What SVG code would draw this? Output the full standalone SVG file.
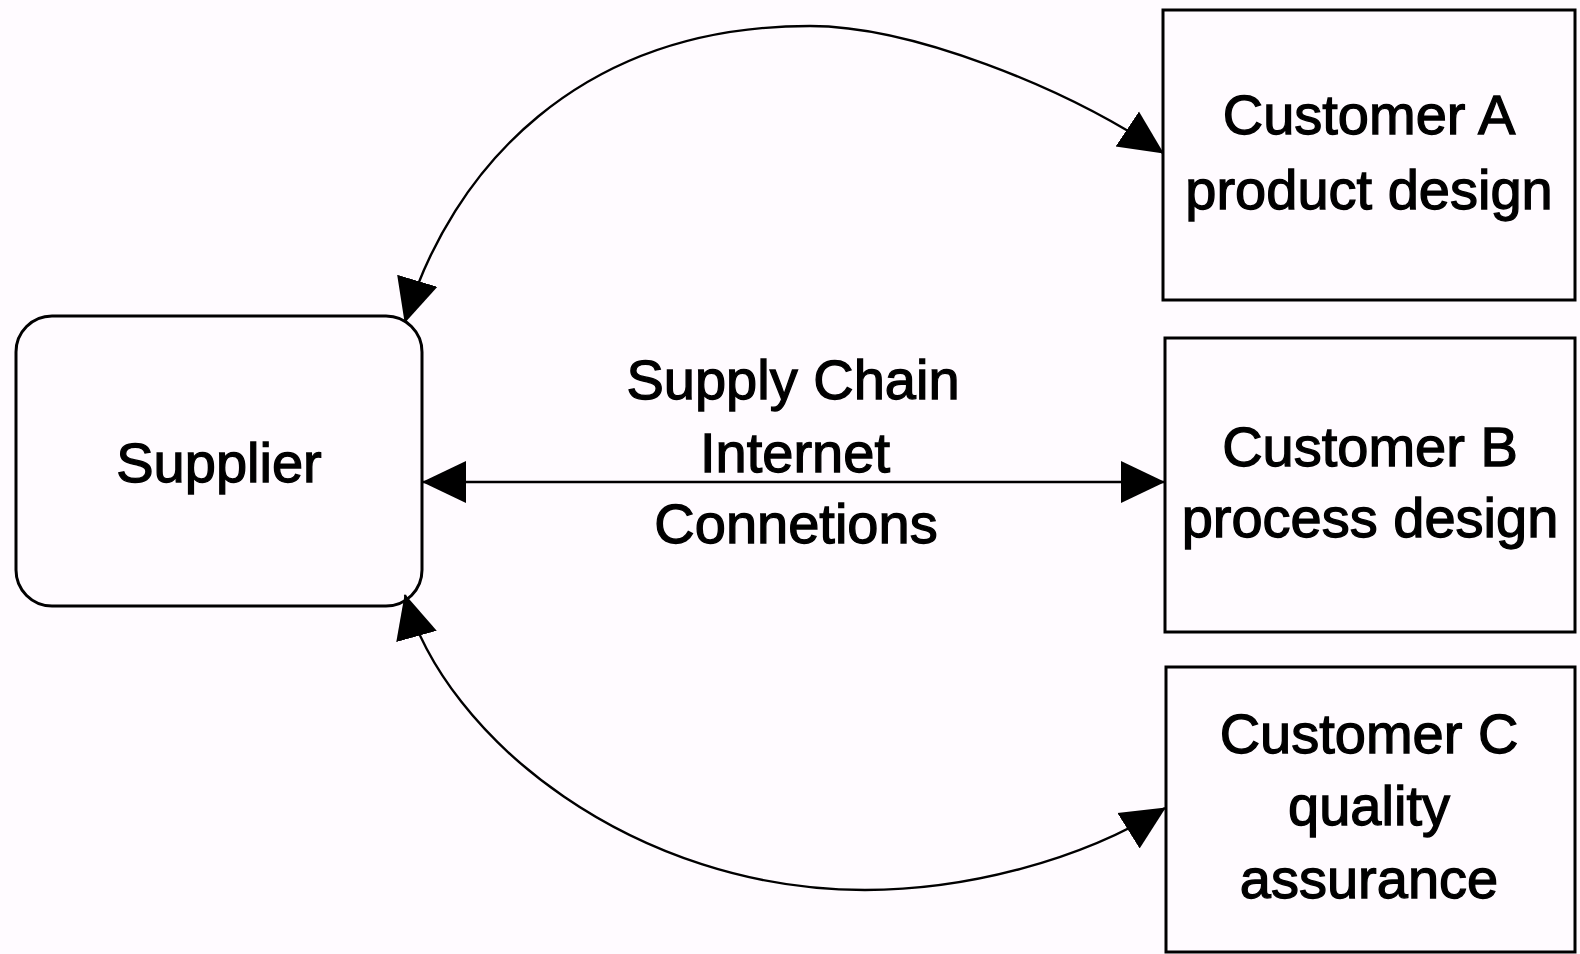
<svg xmlns="http://www.w3.org/2000/svg" width="1580" height="954" viewBox="0 0 1580 954">
  <style>
    .box { fill: none; stroke: #000; stroke-width: 3; }
    .label { font-family: "Liberation Sans", Arial, sans-serif; font-size: 56px; fill: #000; stroke: #000; stroke-width: 1.3; text-anchor: middle; }
    .link { fill: none; stroke: #000; stroke-width: 2.4; marker-start: url(#head); marker-end: url(#head); }
  </style>
  <defs>
    <marker id="head" markerUnits="userSpaceOnUse" viewBox="0 0 44 44" markerWidth="44" markerHeight="44" refX="43" refY="22" orient="auto-start-reverse">
      <path d="M0,1 L44,22 L0,43 z" fill="#000"/>
    </marker>
  </defs>

  <rect width="1580" height="954" fill="#fffbff"/>

  <!-- connectors -->
  <g id="connectors">
    <path class="link" d="M405,322 C451,168 580,26 810,26 C910,26 1063,86 1163,153"/>
    <path class="link" d="M423,482 L1164,482"/>
    <path class="link" d="M405,595 C445,739 635,890 865,890 C965,890 1080,861 1165,808"/>
  </g>

  <!-- supplier -->
  <g id="supplier">
    <rect class="box" x="16" y="316" width="406" height="290" rx="36" ry="36"/>
    <text class="label" x="219" y="482">Supplier</text>
  </g>

  <!-- link label -->
  <g id="link-label">
    <text class="label" x="793" y="399">Supply Chain</text>
    <text class="label" x="795" y="472">Internet</text>
    <text class="label" x="796" y="543">Connetions</text>
  </g>

  <!-- customers -->
  <g id="customer-a">
    <rect class="box" x="1163" y="10" width="412" height="290"/>
    <text class="label" x="1369" y="134">Customer A</text>
    <text class="label" x="1369" y="209">product design</text>
  </g>
  <g id="customer-b">
    <rect class="box" x="1165" y="338" width="410" height="294"/>
    <text class="label" x="1370" y="466">Customer B</text>
    <text class="label" x="1370" y="537">process design</text>
  </g>
  <g id="customer-c">
    <rect class="box" x="1166" y="667" width="409" height="285"/>
    <text class="label" x="1369" y="753">Customer C</text>
    <text class="label" x="1369" y="825">quality</text>
    <text class="label" x="1369" y="898">assurance</text>
  </g>
</svg>
